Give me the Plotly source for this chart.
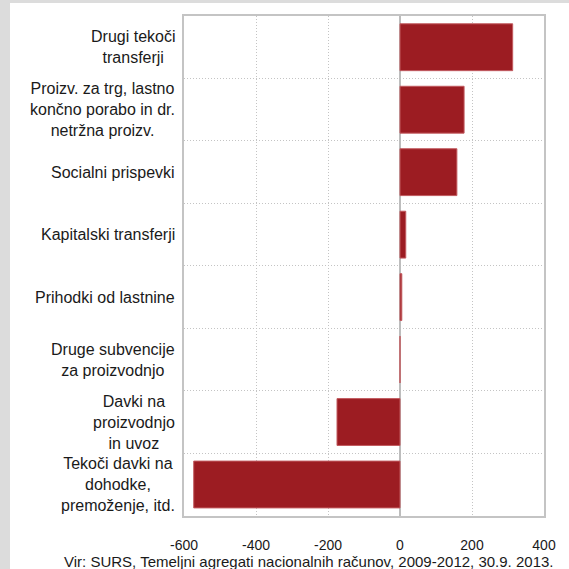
import plotly.graph_objects as go

categories = [
    "Drugi tekoči<br>transferji",
    "Proizv. za trg, lastno<br>končno porabo in dr.<br>netržna proizv.",
    "Socialni prispevki",
    "Kapitalski transferji",
    "Prihodki od lastnine",
    "Druge subvencije<br>za proizvodnjo",
    "Davki na<br>proizvodnjo<br>in uvoz",
    "Tekoči davki na<br>dohodke,<br>premoženje, itd.",
]
values = [313, 178, 158, 16, 5, 0, -175, -573]
x_ticks = [-600, -400, -200, 0, 200, 400]
x_tick_labels = ["-600", "-400", "-200", "0", "200", "400"]
source_text = "Vir: SURS, Temeljni agregati nacionalnih računov, 2009-2012, 30.9. 2013."

FONT = "Liberation Sans"
W, H = 569, 569
ML, MR, MT, MB = 184, 25, 16, 53
PW, PH = W - ML - MR, H - MT - MB

def px_x(p):
    return (p - ML) / PW

def px_y(p):
    return (H - MB - p) / PH

fig = go.Figure(go.Bar(
    x=values, y=categories, orientation="h",
    marker=dict(color="#9c1c22", line=dict(color="#c25a5f", width=1)),
))

annotations = [
    dict(text=c, xref="paper", yref="y", x=px_x(177), y=c,
         xanchor="right", yanchor="middle", align="center",
         showarrow=False, font=dict(size=16, color="#1a1a1a"))
    for c in categories
]
annotations.append(
    dict(text=source_text, xref="paper", yref="paper",
         x=px_x(62), y=px_y(561.5), xanchor="left", yanchor="middle",
         showarrow=False, font=dict(size=15, color="#1a1a1a"))
)

fig.update_layout(
    width=W, height=H,
    margin=dict(l=ML, r=MR, t=MT, b=MB),
    paper_bgcolor="white", plot_bgcolor="white",
    bargap=0.25, showlegend=False,
    font=dict(family=FONT, size=14, color="#1a1a1a"),
    xaxis=dict(
        range=[-600, 400], tickvals=x_ticks, ticktext=x_tick_labels, ticks="",
        ticklabelstandoff=15,
        showgrid=True, gridcolor="#c4c4c4", griddash="1px,2px", gridwidth=1,
        zeroline=True, zerolinecolor="#bdbdbd", zerolinewidth=2,
        showline=True, linecolor="#c4c4c4", linewidth=2, mirror=True,
        tickfont=dict(size=14),
    ),
    yaxis=dict(
        type="category", autorange="reversed", tickson="boundaries",
        ticks="", showticklabels=False,
        showgrid=True, gridcolor="#c4c4c4", griddash="1px,2px", gridwidth=1,
        showline=True, linecolor="#c4c4c4", linewidth=2, mirror=True,
    ),
    shapes=[
        dict(type="rect", xref="paper", yref="paper", layer="below",
             x0=px_x(0), x1=px_x(10), y0=px_y(H), y1=px_y(0),
             fillcolor="#dcdcdc", line=dict(width=0)),
        dict(type="rect", xref="paper", yref="paper", layer="below",
             x0=px_x(0), x1=px_x(W), y0=px_y(3), y1=px_y(0),
             fillcolor="#dcdcdc", line=dict(width=0)),
    ],
    annotations=annotations,
)

fig.write_html(
    "out.html",
    config={"displayModeBar": False},
    post_script="document.body.style.margin='0';document.body.style.overflow='hidden';",
)
